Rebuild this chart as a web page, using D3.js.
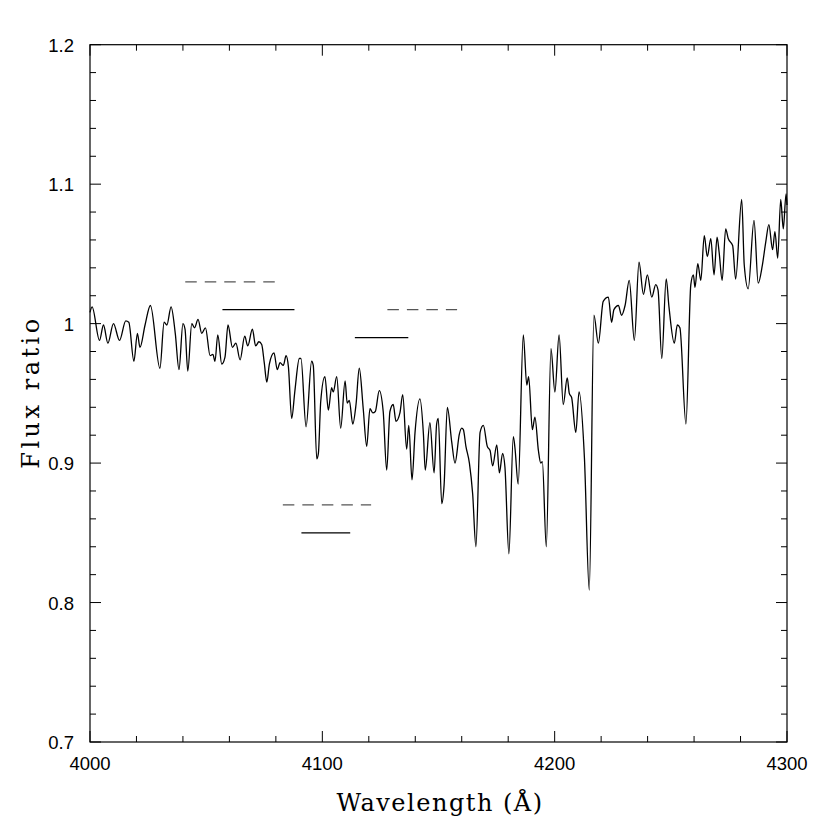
<!DOCTYPE html>
<html>
<head>
<meta charset="utf-8">
<script src="https://cdn.jsdelivr.net/npm/d3@7"></script>
<style>
  body { margin: 0; background: #fff; }
  svg { display: block; }
  .tick-label { font-family: "Liberation Sans", Arial, sans-serif; font-size: 18.5px; fill: #000; }
  .axis-title { font-family: "DejaVu Serif", "Liberation Serif", serif; font-size: 24px; fill: #000; letter-spacing: 1.5px; }
</style>
</head>
<body>
<svg id="chart" width="830" height="830"></svg>
<script>
// spectrum (wavelength in A, flux ratio)
var wavelength = [
  4000.0, 4000.9, 4004.1, 4005.8, 4007.7, 4010.1, 4012.7, 4015.4, 4016.7, 4018.9,
  4020.4, 4021.5, 4023.7, 4026.0, 4030.1, 4031.9, 4033.1, 4034.9, 4036.7, 4038.3,
  4040.0, 4040.9, 4042.1, 4043.8, 4045.0, 4046.5, 4048.1, 4049.7, 4051.7, 4052.9,
  4053.8, 4055.0, 4056.7, 4058.1, 4059.4, 4061.3, 4062.8, 4064.6, 4066.6, 4067.9,
  4069.9, 4071.3, 4072.7, 4073.9, 4075.0, 4076.1, 4077.2, 4079.2, 4080.6, 4081.8,
  4083.2, 4084.4, 4085.4, 4086.8, 4088.2, 4090.1, 4090.8, 4093.0, 4095.4, 4096.1,
  4097.6, 4098.3, 4099.3, 4101.1, 4102.6, 4104.0, 4104.7, 4106.2, 4107.9, 4109.8,
  4110.7, 4111.6, 4113.1, 4114.5, 4115.9, 4117.6, 4119.1, 4120.5, 4121.7, 4122.8,
  4124.5, 4126.2, 4127.7, 4129.1, 4130.5, 4131.7, 4133.4, 4134.6, 4136.3, 4137.2,
  4138.6, 4139.9, 4142.0, 4143.5, 4144.3, 4146.3, 4148.1, 4149.2, 4149.9, 4151.4,
  4152.4, 4153.8, 4155.7, 4157.1, 4159.0, 4160.0, 4160.7, 4161.8, 4163.3, 4164.7,
  4166.1, 4167.9, 4169.3, 4171.0, 4172.2, 4173.3, 4175.1, 4176.2, 4177.6, 4178.6,
  4180.3, 4182.2, 4182.9, 4184.3, 4186.5, 4188.0, 4188.8, 4190.4, 4191.5, 4193.0,
  4194.0, 4194.7, 4196.4, 4198.4, 4200.1, 4201.9, 4203.7, 4205.4, 4206.3, 4207.3,
  4209.1, 4210.5, 4212.8, 4214.9, 4216.9, 4218.8, 4220.9, 4223.1, 4224.5, 4225.5,
  4227.4, 4228.8, 4230.3, 4232.1, 4234.3, 4236.3, 4238.2, 4239.9, 4241.8, 4243.5,
  4244.5, 4246.1, 4248.0, 4249.2, 4251.5, 4252.8, 4253.9, 4256.5, 4258.6, 4259.7,
  4260.4, 4261.6, 4262.9, 4264.4, 4265.7, 4267.2, 4268.6, 4269.9, 4270.8, 4272.1,
  4273.6, 4274.7, 4276.6, 4277.9, 4280.5, 4281.6, 4283.3, 4285.8, 4287.6, 4289.4,
  4290.9, 4292.2, 4293.8, 4294.8, 4296.0, 4297.3, 4298.4, 4299.6, 4300.0
];
var flux = [
  1.008, 1.012, 0.988, 0.999, 0.986, 1.000, 0.988, 1.002, 1.001, 0.973,
  0.993, 0.983, 0.999, 1.013, 0.968, 1.001, 0.999, 1.012, 0.993, 0.967,
  1.000, 0.996, 0.966, 1.000, 0.997, 1.003, 0.993, 0.997, 0.977, 0.978,
  0.973, 0.992, 0.971, 0.976, 0.999, 0.983, 0.986, 0.974, 0.991, 0.984,
  0.996, 0.984, 0.987, 0.985, 0.972, 0.958, 0.971, 0.979, 0.967, 0.972,
  0.970, 0.977, 0.969, 0.932, 0.952, 0.975, 0.975, 0.926, 0.973, 0.970,
  0.903, 0.907, 0.944, 0.962, 0.938, 0.954, 0.951, 0.962, 0.925, 0.959,
  0.943, 0.945, 0.928, 0.942, 0.968, 0.939, 0.912, 0.939, 0.936, 0.937,
  0.952, 0.937, 0.895, 0.937, 0.942, 0.930, 0.936, 0.949, 0.910, 0.927,
  0.888, 0.922, 0.946, 0.921, 0.895, 0.929, 0.893, 0.928, 0.932, 0.871,
  0.884, 0.940, 0.915, 0.900, 0.921, 0.925, 0.924, 0.912, 0.900, 0.878,
  0.840, 0.922, 0.927, 0.912, 0.909, 0.898, 0.913, 0.893, 0.907, 0.897,
  0.835, 0.919, 0.911, 0.885, 0.992, 0.956, 0.962, 0.924, 0.933, 0.909,
  0.900, 0.901, 0.840, 0.982, 0.951, 0.992, 0.942, 0.961, 0.950, 0.947,
  0.922, 0.951, 0.904, 0.809, 1.006, 0.986, 1.016, 1.019, 1.001, 1.010,
  1.013, 1.006, 1.013, 1.031, 0.988, 1.044, 1.021, 1.035, 1.019, 1.028,
  1.024, 0.975, 1.032, 1.012, 0.986, 0.999, 0.997, 0.928, 1.028, 1.035,
  1.026, 1.043, 1.031, 1.063, 1.048, 1.061, 1.035, 1.062, 1.051, 1.031,
  1.068, 1.061, 1.056, 1.032, 1.089, 1.042, 1.025, 1.074, 1.029, 1.042,
  1.059, 1.071, 1.053, 1.066, 1.047, 1.089, 1.068, 1.093, 1.085
];

// horizontal marker segments: [start, end, level]
var solidMarks = [[4057, 4088, 1.01], [4114, 4137, 0.99], [4091, 4112, 0.85]];
var dashedMarks = [[4041, 4080, 1.03], [4128, 4158, 1.01], [4083, 4121, 0.87]];

var xTicks = [4000, 4100, 4200, 4300];
var yTicks = [0.7, 0.8, 0.9, 1.0, 1.1, 1.2];
var yTickLabels = ["0.7", "0.8", "0.9", "1", "1.1", "1.2"];

var plotL = 90, plotR = 787, plotT = 44.7, plotB = 742;

var svg = d3.select("#chart");
var x = d3.scaleLinear().domain([4000, 4300]).range([plotL, plotR]);
var y = d3.scaleLinear().domain([0.7, 1.2]).range([plotB, plotT]);

// ticks on all four sides, pointing in
var xMinor = d3.range(4000, 4301, 20);
var yMinor = d3.range(0, 26).map(function(i) { return 0.7 + i * 0.02; });

function isMajorX(v) { return Math.abs(v % 100) < 1e-6; }
function isMajorY(v) { return Math.abs(Math.round(v * 10) - v * 10) < 1e-6; }

var ticks = svg.append("g").attr("stroke", "#000").attr("stroke-width", 1);
xMinor.forEach(function(v) {
  var len = isMajorX(v) ? 11 : 6;
  ticks.append("line").attr("x1", x(v)).attr("x2", x(v)).attr("y1", plotB).attr("y2", plotB - len);
  ticks.append("line").attr("x1", x(v)).attr("x2", x(v)).attr("y1", plotT).attr("y2", plotT + len);
});
yMinor.forEach(function(v) {
  var len = isMajorY(v) ? 11 : 6;
  ticks.append("line").attr("y1", y(v)).attr("y2", y(v)).attr("x1", plotL).attr("x2", plotL + len);
  ticks.append("line").attr("y1", y(v)).attr("y2", y(v)).attr("x1", plotR).attr("x2", plotR - len);
});

svg.append("rect")
  .attr("x", plotL).attr("y", plotT)
  .attr("width", plotR - plotL).attr("height", plotB - plotT)
  .attr("fill", "none").attr("stroke", "#000").attr("stroke-width", 1.2);

svg.selectAll(".xlab").data(xTicks).enter().append("text")
  .attr("class", "tick-label")
  .attr("x", function(d) { return x(d); })
  .attr("y", 770)
  .attr("text-anchor", "middle")
  .text(function(d) { return d; });

svg.selectAll(".ylab").data(yTicks).enter().append("text")
  .attr("class", "tick-label")
  .attr("x", 74)
  .attr("y", function(d) { return y(d) + 7; })
  .attr("text-anchor", "end")
  .text(function(d, i) { return yTickLabels[i]; });

// spectrum
var pts = wavelength.map(function(w, i) { return [w, flux[i]]; });
var line = d3.line()
  .x(function(d) { return x(d[0]); })
  .y(function(d) { return y(d[1]); })
  .curve(d3.curveMonotoneX);

svg.append("path")
  .datum(pts)
  .attr("d", line)
  .attr("fill", "none")
  .attr("stroke", "#000")
  .attr("stroke-width", 1.3);

svg.selectAll(".solid").data(solidMarks).enter().append("line")
  .attr("x1", function(d) { return x(d[0]); })
  .attr("x2", function(d) { return x(d[1]); })
  .attr("y1", function(d) { return y(d[2]); })
  .attr("y2", function(d) { return y(d[2]); })
  .attr("stroke", "#000").attr("stroke-width", 1.3);

svg.selectAll(".dashed").data(dashedMarks).enter().append("line")
  .attr("x1", function(d) { return x(d[0]); })
  .attr("x2", function(d) { return x(d[1]); })
  .attr("y1", function(d) { return y(d[2]); })
  .attr("y2", function(d) { return y(d[2]); })
  .attr("stroke", "#555").attr("stroke-width", 1.3)
  .attr("stroke-dasharray", "11.5,8");

svg.append("text")
  .attr("class", "axis-title")
  .attr("x", 440)
  .attr("y", 811)
  .attr("text-anchor", "middle")
  .text("Wavelength (Å)");

svg.append("text")
  .attr("class", "axis-title")
  .style("letter-spacing", "3.5px")
  .attr("transform", "translate(39,392) rotate(-90)")
  .attr("text-anchor", "middle")
  .text("Flux ratio");
</script>
</body>
</html>
